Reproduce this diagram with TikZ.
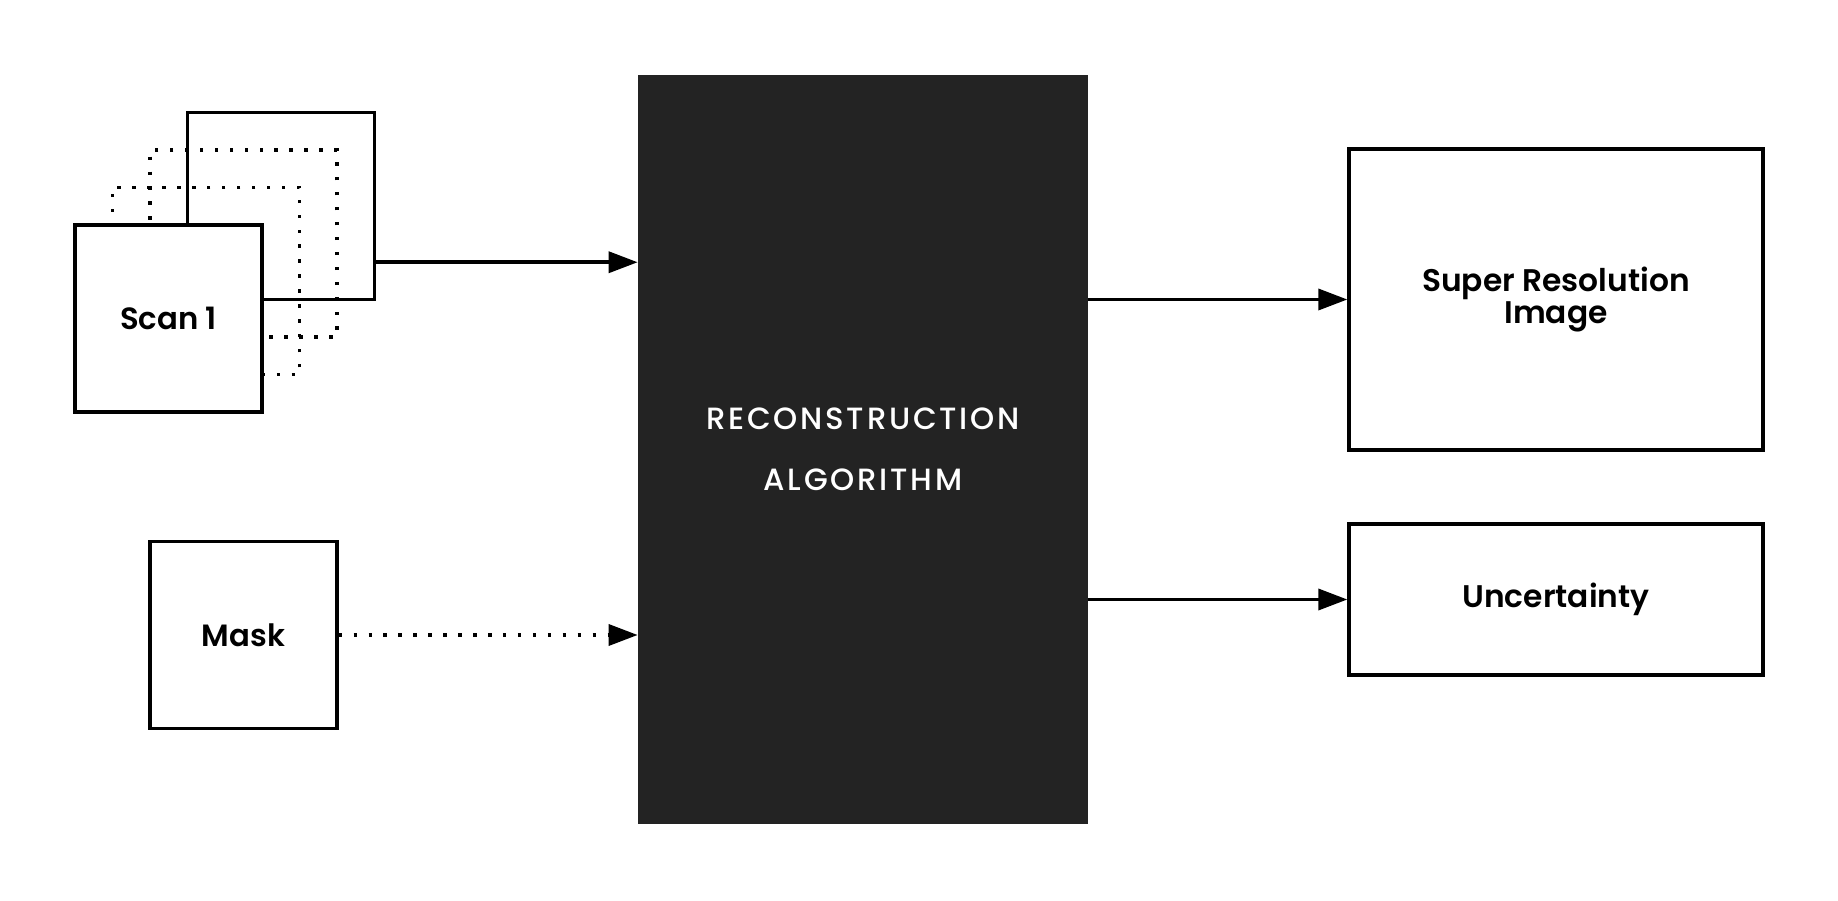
\documentclass[tikz,border=0pt]{standalone}
\usepackage{fontspec}
\setmainfont{Poppins}[BoldFont={Poppins SemiBold}]
\newfontfamily\widefont[LetterSpace=9]{Poppins Medium}
\usetikzlibrary{positioning,arrows.meta,calc}
\definecolor{algodark}{RGB}{35,35,35}
\tikzset{
  scanbox/.style={draw=black,fill=white,line width=1.9pt,minimum width=3.74cm,minimum height=3.74cm,inner sep=0pt,font=\bfseries\fontsize{17.5}{20}\selectfont},
  ghostbox/.style={draw=black,line width=1.9pt,dash pattern=on 1.9pt off 6.6pt,minimum width=3.74cm,minimum height=3.74cm,inner sep=0pt},
  outbox/.style={draw=black,fill=white,line width=1.9pt,minimum width=8.28cm,align=center,inner sep=0pt,font=\bfseries\fontsize{17.8}{18.5}\selectfont},
  algobox/.style={fill=algodark,minimum width=9cm,minimum height=14.98cm,text=white,align=center,font=\widefont\fontsize{17.5}{34.7}\selectfont},
  flow/.style={-{Triangle[length=5.8mm,width=4.2mm]},line width=2pt},
  dotflow/.style={flow,dash pattern=on 2pt off 6.5pt},
}
\begin{document}
\begin{tikzpicture}
  \path[use as bounding box,fill=white] (0,0) rectangle (36.76,18);
  % input stack
  \node[scanbox] (back) at (5.62,13.88) {};
  \node[ghostbox] (ghostA) at (4.87,13.13) {};
  \node[ghostbox] (ghostB) at (4.12,12.38) {};
  \node[scanbox] (scan) at (3.37,11.63) {Scan 1};
  \node[scanbox] (mask) at (4.87,5.3) {Mask};
  % reconstruction
  \node[algobox] (algo) at (17.26,9.01) {RECONSTRUCTION\\ALGORITHM};
  % outputs
  \node[outbox,minimum height=6.02cm] (sr) at (31.12,12.01) {Super Resolution\\Image};
  \node[outbox,minimum height=3.02cm] (unc) at (31.12,6.01) {Uncertainty};
  % arrows
  \coordinate (stackmid) at ($(back.north)!0.5!(scan.south)$);
  \draw[flow] (back.east |- stackmid) -- (algo.west |- stackmid);
  \draw[dotflow] (mask.east) -- (algo.west |- mask.east);
  \draw[flow] (algo.east |- sr.west) -- (sr.west);
  \draw[flow] (algo.east |- unc.west) -- (unc.west);
\end{tikzpicture}
\end{document}
